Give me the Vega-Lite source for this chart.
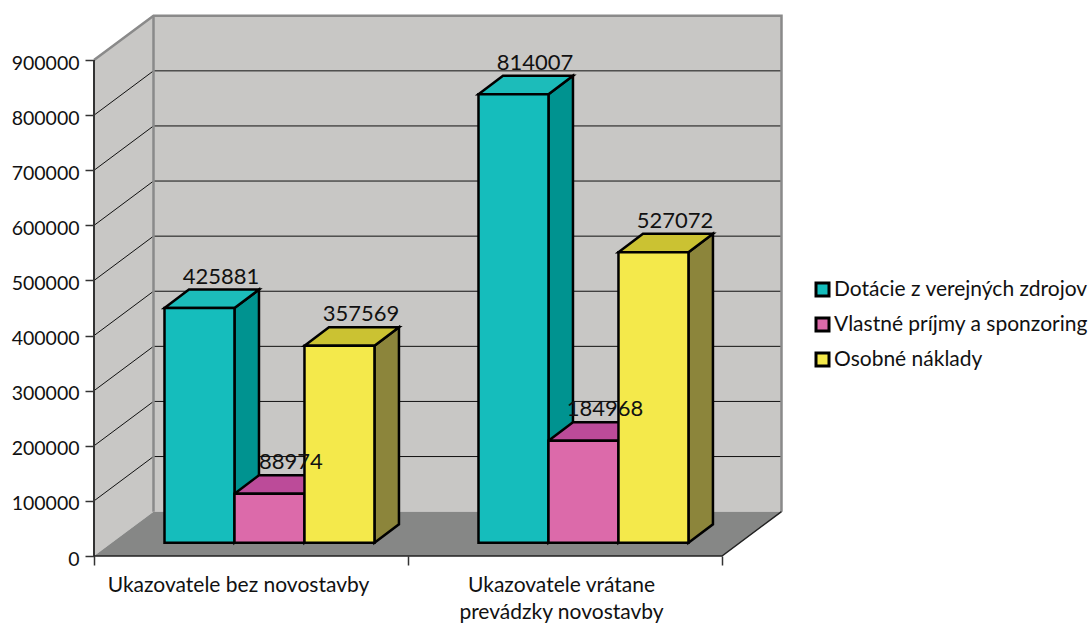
{
  "$schema": "https://vega.github.io/schema/vega-lite/v6.json",
  "width": 688,
  "height": 541,
  "autosize": {"type": "none"},
  "padding": {"left": 94, "top": 15, "right": 309, "bottom": 68},
  "background": "white",
  "config": {
    "view": {"stroke": null},
    "font": "Lato",
    "axisX": {
      "domain": false, "grid": false,
      "tickSize": 9, "tickColor": "#333333", "tickWidth": 1.5,
      "labelFont": "Lato", "labelFontSize": 21, "labelColor": "#111111", "labelLimit": 400,
      "labelPadding": 9, "labelLineHeight": 27, "labelOverlap": false, "labelBound": false, "labelFlush": false, "title": null
    },
    "axisY": {
      "domain": false, "grid": false,
      "tickSize": 9, "tickColor": "#333333", "tickWidth": 1.5,
      "labelFont": "Lato", "labelFontSize": 19.5, "labelColor": "#111111", "labelOffset": 3,
      "labelPadding": 6, "labelOverlap": false, "labelBound": false, "title": null
    }
  },
  "datasets": {
    "bars": [
      {"group": "Ukazovatele bez novostavby", "series": "Dotácie z verejných zdrojov", "value": 425881},
      {"group": "Ukazovatele bez novostavby", "series": "Vlastné príjmy a sponzoring", "value": 88974},
      {"group": "Ukazovatele bez novostavby", "series": "Osobné náklady", "value": 357569},
      {"group": "Ukazovatele vrátane prevádzky novostavby", "series": "Dotácie z verejných zdrojov", "value": 814007},
      {"group": "Ukazovatele vrátane prevádzky novostavby", "series": "Vlastné príjmy a sponzoring", "value": 184968},
      {"group": "Ukazovatele vrátane prevádzky novostavby", "series": "Osobné náklady", "value": 527072}
    ],
    "ticks": [
      {"tick": 100000}, {"tick": 200000}, {"tick": 300000}, {"tick": 400000},
      {"tick": 500000}, {"tick": 600000}, {"tick": 700000}, {"tick": 800000}
    ]
  },
  "layer": [
    {
      "description": "Category and value axes; the walls and bars sit above them",
      "data": {"values": [{"a": 0, "b": 0}]},
      "mark": {"type": "point", "opacity": 0},
      "encoding": {
        "x": {
          "field": "a", "type": "quantitative", "title": null,
          "scale": {"domain": [0, 2.1911], "nice": false, "zero": false},
          "axis": {
            "values": [0, 0.4586, 1, 1.4873, 2],
            "tickOpacity": {"condition": {"test": "datum.value === 0.4586 || datum.value === 1.4873", "value": 0}, "value": 1},
            "labelExpr": "datum.value === 0.4586 ? 'Ukazovatele bez novostavby' : datum.value === 1.4873 ? ['Ukazovatele vrátane', 'prevádzky novostavby'] : ''"
          }
        },
        "y": {
          "field": "b", "type": "quantitative", "title": null,
          "scale": {"domain": [0, 981850], "nice": false, "zero": false},
          "axis": {
            "values": [0, 100000, 200000, 300000, 400000, 500000, 600000, 700000, 800000, 900000],
            "format": "d"
          }
        }
      }
    },
    {
      "description": "Back wall",
      "data": {"values": [{"x": 0.1895, "x2": 2.1895, "y": 80500, "y2": 980500}]},
      "mark": {"type": "rect", "fill": "#c8c7c5"},
      "encoding": {
        "x": {"field": "x", "type": "quantitative", "title": null},
        "x2": {"field": "x2"},
        "y": {"field": "y", "type": "quantitative", "title": null},
        "y2": {"field": "y2"}
      }
    },
    {
      "description": "Left side wall",
      "data": {"values": [{"x": 0, "lo": 0, "hi": 900000}, {"x": 0.1895, "lo": 80500, "hi": 980500}]},
      "mark": {"type": "area", "fill": "#c8c7c5"},
      "encoding": {
        "x": {"field": "x", "type": "quantitative", "title": null},
        "y": {"field": "lo", "type": "quantitative", "title": null, "stack": null},
        "y2": {"field": "hi"}
      }
    },
    {
      "description": "Floor",
      "data": {"values": [{"d": 0, "a": 0, "b": 2}, {"d": 80500, "a": 0.1895, "b": 2.1895}]},
      "mark": {"type": "area", "orient": "horizontal", "fill": "#868786"},
      "encoding": {
        "y": {"field": "d", "type": "quantitative", "title": null},
        "x": {"field": "a", "type": "quantitative", "title": null, "stack": null},
        "x2": {"field": "b"}
      }
    },
    {
      "description": "Gridlines run along the back wall",
      "data": {"name": "ticks"},
      "transform": [{"calculate": "datum.tick + 80500", "as": "back"}],
      "mark": {"type": "rule", "stroke": "#111111", "strokeWidth": 1},
      "encoding": {
        "x": {"datum": 0.1895, "type": "quantitative", "title": null},
        "x2": {"datum": 2.1895},
        "y": {"field": "back", "type": "quantitative", "title": null}
      }
    },
    {
      "description": "Gridlines climb the side wall",
      "data": {"name": "ticks"},
      "transform": [{"calculate": "[0, 1]", "as": "c"}, {"flatten": ["c"]}, {"calculate": "datum.tick + datum.c * 80500", "as": "yy"}, {"calculate": "datum.c * 0.1895", "as": "xx"}],
      "mark": {"type": "line", "stroke": "#111111", "strokeWidth": 1},
      "encoding": {
        "x": {"field": "xx", "type": "quantitative", "title": null},
        "y": {"field": "yy", "type": "quantitative", "title": null},
        "detail": {"field": "tick"}
      }
    },
    {
      "description": "Grey frame edges of the walls",
      "data": {"values": [
        {"edge": "diag", "x": 0, "y": 900000},
        {"edge": "diag", "x": 0.1895, "y": 980500},
        {"edge": "diag", "x": 2.1895, "y": 980500},
        {"edge": "diag", "x": 2.1895, "y": 80500},
        {"edge": "inner", "x": 0.1895, "y": 980500},
        {"edge": "inner", "x": 0.1895, "y": 80500}
      ]},
      "mark": {"type": "line", "stroke": "#8a8a8a", "strokeWidth": 2.5, "strokeJoin": "miter"},
      "encoding": {
        "x": {"field": "x", "type": "quantitative", "title": null},
        "y": {"field": "y", "type": "quantitative", "title": null},
        "detail": {"field": "edge"},
        "order": {"field": "x", "type": "ordinal", "sort": null}
      }
    },
    {
      "description": "Value axis line",
      "data": {"values": [{"x": 0, "y": 0, "y2": 900000}]},
      "mark": {"type": "rule", "stroke": "#333333", "strokeWidth": 2},
      "encoding": {
        "x": {"field": "x", "type": "quantitative", "title": null},
        "y": {"field": "y", "type": "quantitative", "title": null},
        "y2": {"field": "y2"}
      }
    },
    {
      "description": "Front and right edges of the floor",
      "data": {"values": [
        {"x": 0, "y": 0},
        {"x": 2, "y": 0},
        {"x": 2.1895, "y": 80500}
      ]},
      "mark": {"type": "line", "stroke": "#222222", "strokeWidth": 1.5},
      "encoding": {
        "x": {"field": "x", "type": "quantitative", "title": null},
        "y": {"field": "y", "type": "quantitative", "title": null}
      }
    },
    {
      "description": "Bars: side faces, top faces, front faces, then value labels",
      "data": {"name": "bars"},
      "transform": [
        {"calculate": "indexof(['Ukazovatele bez novostavby', 'Ukazovatele vrátane prevádzky novostavby'], datum.group) + 0.2245 + indexof(['Dotácie z verejných zdrojov', 'Vlastné príjmy a sponzoring', 'Osobné náklady'], datum.series) * 0.2229", "as": "left"},
        {"calculate": "datum.left + 0.2229", "as": "right"},
        {"calculate": "datum.value + 24000", "as": "top"}
      ],
      "resolve": {"scale": {"color": "independent"}},
      "layer": [
        {
          "transform": [
            {"calculate": "[0, 1]", "as": "c"}, {"flatten": ["c"]},
            {"calculate": "datum.right + datum.c * 0.078", "as": "sx"},
            {"calculate": "datum.top + datum.c * 33600", "as": "sy"},
            {"calculate": "24000 + datum.c * 33600", "as": "sb"}
          ],
          "mark": {"type": "area", "stroke": "#000000", "strokeWidth": 2.5, "strokeJoin": "miter"},
          "encoding": {
            "x": {"field": "sx", "type": "quantitative", "title": null},
            "y": {"field": "sy", "type": "quantitative", "title": null, "stack": null},
            "y2": {"field": "sb"},
            "detail": {"field": "group"},
            "color": {
              "field": "series", "type": "nominal", "legend": null,
              "scale": {"domain": ["Dotácie z verejných zdrojov", "Vlastné príjmy a sponzoring", "Osobné náklady"], "range": ["#009390", "#a8437f", "#8c853b"]}
            }
          }
        },
        {
          "transform": [
            {"calculate": "[0, 1]", "as": "c"}, {"flatten": ["c"]},
            {"calculate": "datum.left + datum.c * 0.078", "as": "ta"},
            {"calculate": "datum.right + datum.c * 0.078", "as": "tb"},
            {"calculate": "datum.top + datum.c * 33600", "as": "ty"}
          ],
          "mark": {"type": "area", "orient": "horizontal", "stroke": "#000000", "strokeWidth": 2.5, "strokeJoin": "miter"},
          "encoding": {
            "y": {"field": "ty", "type": "quantitative", "title": null},
            "x": {"field": "ta", "type": "quantitative", "title": null, "stack": null},
            "x2": {"field": "tb"},
            "detail": {"field": "group"},
            "color": {
              "field": "series", "type": "nominal", "legend": null,
              "scale": {"domain": ["Dotácie z verejných zdrojov", "Vlastné príjmy a sponzoring", "Osobné náklady"], "range": ["#1cbcba", "#bc4b99", "#cbc232"]}
            }
          }
        },
        {
          "mark": {"type": "rect", "stroke": "#000000", "strokeWidth": 2.5},
          "encoding": {
            "x": {"field": "left", "type": "quantitative", "title": null},
            "x2": {"field": "right"},
            "y": {"field": "top", "type": "quantitative", "title": null},
            "y2": {"datum": 24000},
            "color": {
              "field": "series", "type": "nominal", "title": null,
              "scale": {"domain": ["Dotácie z verejných zdrojov", "Vlastné príjmy a sponzoring", "Osobné náklady"], "range": ["#15bdbc", "#dc6aaa", "#f4e94b"]},
              "legend": {
                "orient": "none", "legendX": 718, "legendY": 264,
                "symbolType": "square", "symbolSize": 169, "symbolStrokeColor": "#000000", "symbolStrokeWidth": 3, "symbolOpacity": 1,
                "labelFont": "Lato", "labelFontSize": 21, "labelColor": "#111111", "labelOffset": 1, "rowPadding": 10, "labelLimit": 300, "padding": 0
              }
            }
          }
        },
        {
          "transform": [
            {"calculate": "datum.left + 0.1115 + 0.078", "as": "lx"},
            {"calculate": "datum.top + 33600", "as": "ly"}
          ],
          "mark": {"type": "text", "font": "Lato", "fontSize": 22, "color": "#111111", "baseline": "alphabetic", "align": "center", "dy": -6, "dx": -3},
          "encoding": {
            "x": {"field": "lx", "type": "quantitative", "title": null},
            "y": {"field": "ly", "type": "quantitative", "title": null},
            "text": {"field": "value", "type": "quantitative", "format": "d"}
          }
        }
      ]
    }
  ]
}
